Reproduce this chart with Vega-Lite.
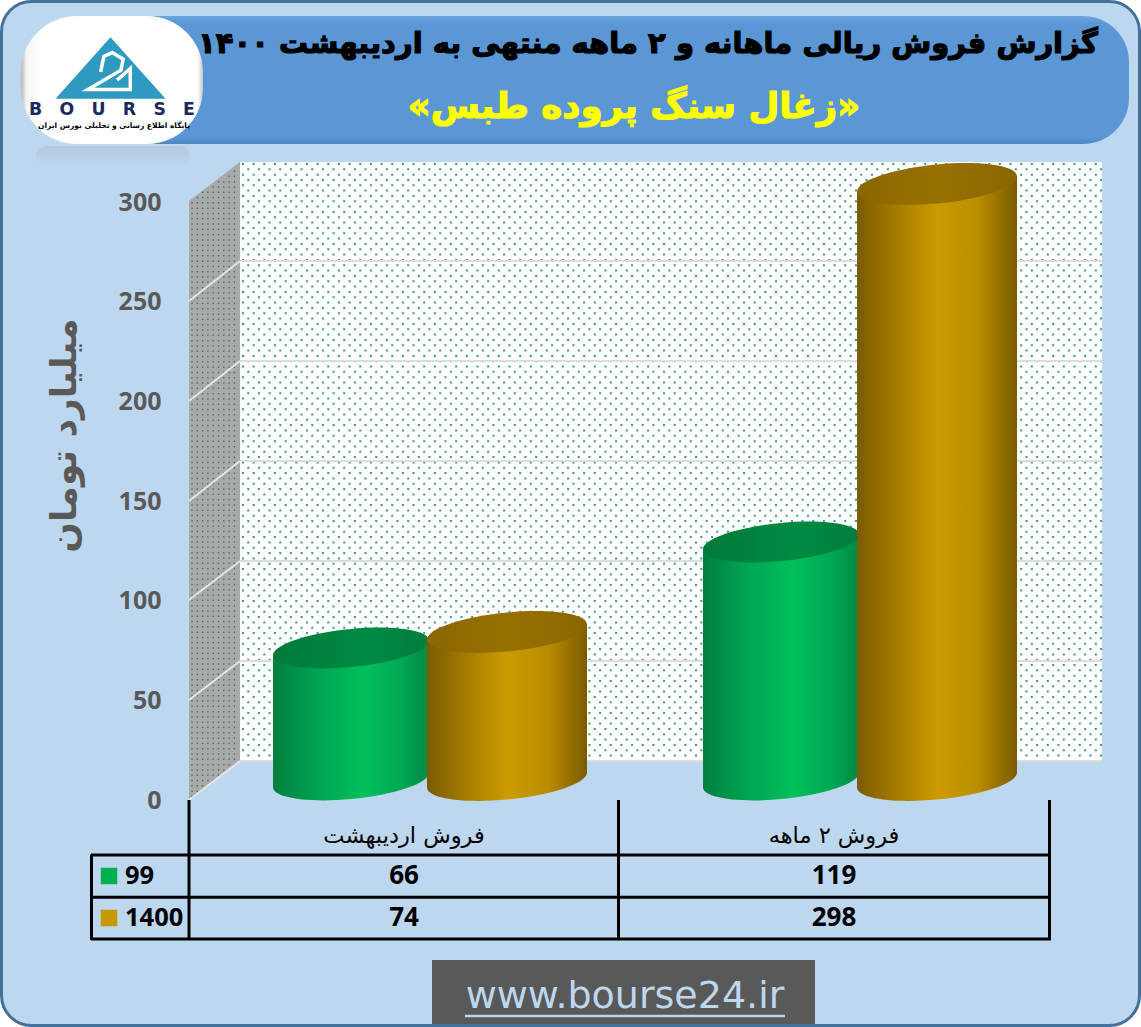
{"$schema":"https://vega.github.io/schema/vega-lite/v6.json","width":1141,"height":1027,"autosize":{"type":"fit","contains":"padding"},"padding":0,"background":"#ffffff","config":{"view":{"stroke":null}},
"datasets":{"one":[{}],
"sales":[{"cat":"فروش اردیبهشت","series":"99","value":66},{"cat":"فروش اردیبهشت","series":"1400","value":74},{"cat":"فروش ۲ ماهه","series":"99","value":119},{"cat":"فروش ۲ ماهه","series":"1400","value":298}],
"cats":[{"cat":"فروش اردیبهشت"},{"cat":"فروش ۲ ماهه"}],
"seriesRows":[{"series":"99"},{"series":"1400"}],
"grid":[{"tick":0,"front":800,"back":761},{"tick":50,"front":700,"back":661},{"tick":100,"front":600,"back":561},{"tick":150,"front":501,"back":461},{"tick":200,"front":401,"back":361},{"tick":250,"front":301,"back":261},{"tick":300,"front":202,"back":161}],
"side":[{"x":189,"t":201,"b":800},{"x":240,"t":162,"b":761}],
"sideDots":[{"x":192,"t":202.1,"b":797},{"x":197.3,"t":196.8,"b":793},{"x":202.6,"t":191.5,"b":789},{"x":207.9,"t":191.5,"b":785},{"x":213.2,"t":186.2,"b":781},{"x":218.5,"t":180.9,"b":777},{"x":223.8,"t":180.9,"b":774},{"x":229.1,"t":175.6,"b":770},{"x":234.4,"t":170.3,"b":766}],
"dotsA":[{"r":164},{"r":174.7},{"r":185.3},{"r":196},{"r":206.6},{"r":217.3},{"r":228},{"r":238.6},{"r":249.3},{"r":259.9},{"r":270.6},{"r":281.3},{"r":291.9},{"r":302.6},{"r":313.2},{"r":323.9},{"r":334.6},{"r":345.2},{"r":355.9},{"r":366.5},{"r":377.2},{"r":387.9},{"r":398.5},{"r":409.2},{"r":419.8},{"r":430.5},{"r":441.2},{"r":451.8},{"r":462.5},{"r":473.1},{"r":483.8},{"r":494.5},{"r":505.1},{"r":515.8},{"r":526.4},{"r":537.1},{"r":547.8},{"r":558.4},{"r":569.1},{"r":579.7},{"r":590.4},{"r":601.1},{"r":611.7},{"r":622.4},{"r":633},{"r":643.7},{"r":654.4},{"r":665},{"r":675.7},{"r":686.3},{"r":697},{"r":707.7},{"r":718.3},{"r":729},{"r":739.6},{"r":750.3}],
"dotsB":[{"r":169.3},{"r":180},{"r":190.6},{"r":201.3},{"r":211.9},{"r":222.6},{"r":233.3},{"r":243.9},{"r":254.6},{"r":265.2},{"r":275.9},{"r":286.6},{"r":297.2},{"r":307.9},{"r":318.5},{"r":329.2},{"r":339.9},{"r":350.5},{"r":361.2},{"r":371.8},{"r":382.5},{"r":393.2},{"r":403.8},{"r":414.5},{"r":425.1},{"r":435.8},{"r":446.5},{"r":457.1},{"r":467.8},{"r":478.4},{"r":489.1},{"r":499.8},{"r":510.4},{"r":521.1},{"r":531.7},{"r":542.4},{"r":553.1},{"r":563.7},{"r":574.4},{"r":585},{"r":595.7},{"r":606.4},{"r":617},{"r":627.7},{"r":638.3},{"r":649},{"r":659.7},{"r":670.3},{"r":681},{"r":691.6},{"r":702.3},{"r":713},{"r":723.6},{"r":734.3},{"r":744.9},{"r":755.6}]
},
"resolve":{"scale":{"x":"independent","y":"independent"}},
"layer":[
{"data":{"name":"one"},"mark":{"type":"rect","fill":"#bdd7ee","stroke":"#41719c","strokeWidth":3,"cornerRadius":30},"encoding":{"x":{"datum":1.5,"type":"quantitative","scale":{"domain":[0,1141],"range":[0,1141]},"axis":null},"x2":{"datum":1139.5},"y":{"datum":1.5,"type":"quantitative","scale":{"domain":[0,1027],"range":[0,1027]},"axis":null},"y2":{"datum":1025.5}}},
{"data":{"name":"one"},"mark":{"type":"rect","fill":{"x1":0,"y1":0,"x2":0,"y2":1,"gradient":"linear","stops":[{"offset":0,"color":"#6ba6de"},{"offset":0.06,"color":"#5b97d5"},{"offset":0.95,"color":"#5a97d4"},{"offset":1,"color":"#4d86c0"}]},"cornerRadius":46},"encoding":{"x":{"datum":110,"type":"quantitative","scale":{"domain":[0,1141],"range":[0,1141]},"axis":null},"x2":{"datum":1129},"y":{"datum":16,"type":"quantitative","scale":{"domain":[0,1027],"range":[0,1027]},"axis":null},"y2":{"datum":144}}},
{"data":{"name":"one"},"mark":{"type":"rect","fill":{"x1":0,"y1":0,"x2":0,"y2":1,"gradient":"linear","stops":[{"offset":0,"color":"#b2c9df"},{"offset":1,"color":"#bdd7ee"}]},"cornerRadius":18},"encoding":{"x":{"datum":36,"type":"quantitative","scale":{"domain":[0,1141],"range":[0,1141]},"axis":null},"x2":{"datum":190},"y":{"datum":146,"type":"quantitative","scale":{"domain":[0,1027],"range":[0,1027]},"axis":null},"y2":{"datum":166}}},
{"data":{"name":"one"},"mark":{"type":"rect","fill":{"x1":0,"y1":0,"x2":1,"y2":0,"gradient":"linear","stops":[{"offset":0,"color":"#b5b5b5"},{"offset":0.03,"color":"#f4f4f4"},{"offset":0.1,"color":"#ffffff"},{"offset":0.97,"color":"#ffffff"},{"offset":1,"color":"#c4c4c4"}]},"cornerRadius":56},"encoding":{"x":{"datum":21,"type":"quantitative","scale":{"domain":[0,1141],"range":[0,1141]},"axis":null},"x2":{"datum":203},"y":{"datum":16,"type":"quantitative","scale":{"domain":[0,1027],"range":[0,1027]},"axis":null},"y2":{"datum":144}}},
{"data":{"name":"one"},"mark":{"type":"point","shape":"M0,-0.56L1,0.56L-1,0.56Z","filled":true,"fill":"#2f9abf","size":12100,"opacity":1,"strokeWidth":0},"encoding":{"x":{"datum":110.5,"type":"quantitative","scale":{"domain":[0,1141],"range":[0,1141]},"axis":null},"y":{"datum":68,"type":"quantitative","scale":{"domain":[0,1027],"range":[0,1027]},"axis":null}}},
{"data":{"name":"one"},"mark":{"type":"point","shape":"M-0.18,0.07L-0.12,-0.21L0.03,-0.28L0.23,-0.16L0.19,0.04L-0.41,0.39L0.36,0.39L0.36,0.01L0.12,0.22","filled":false,"stroke":"#ffffff","strokeWidth":3.5,"size":12100,"opacity":1},"encoding":{"x":{"datum":110.5,"type":"quantitative","scale":{"domain":[0,1141],"range":[0,1141]},"axis":null},"y":{"datum":68,"type":"quantitative","scale":{"domain":[0,1027],"range":[0,1027]},"axis":null}}},
{"data":{"name":"one"},"mark":{"type":"text","text":"B\u2003O\u2003U\u2003R\u2003S\u2003E","font":"DejaVu Sans","fontSize":17.3,"fontWeight":"bold","fill":"#1b2a5e","align":"center","baseline":"middle"},"encoding":{"x":{"datum":112,"type":"quantitative","scale":{"domain":[0,1141],"range":[0,1141]},"axis":null},"y":{"datum":110,"type":"quantitative","scale":{"domain":[0,1027],"range":[0,1027]},"axis":null}}},
{"data":{"name":"one"},"mark":{"type":"text","text":"پایگاه اطلاع رسانی و تحلیلی بورس ایران","font":"DejaVu Sans","fontSize":7.5,"fontWeight":"bold","fill":"#000000","align":"center","baseline":"middle"},"encoding":{"x":{"datum":114,"type":"quantitative","scale":{"domain":[0,1141],"range":[0,1141]},"axis":null},"y":{"datum":126,"type":"quantitative","scale":{"domain":[0,1027],"range":[0,1027]},"axis":null}}},
{"data":{"name":"one"},"mark":{"type":"text","text":"گزارش فروش ریالی ماهانه و ۲ ماهه منتهی به اردیبهشت ۱۴۰۰","font":"DejaVu Sans","fontSize":29,"fontWeight":"bold","fill":"#000000","stroke":"#000000","strokeWidth":1.2,"align":"center","baseline":"middle"},"encoding":{"x":{"datum":648,"type":"quantitative","scale":{"domain":[0,1141],"range":[0,1141]},"axis":null},"y":{"datum":44,"type":"quantitative","scale":{"domain":[0,1027],"range":[0,1027]},"axis":null}}},
{"data":{"name":"one"},"mark":{"type":"text","text":"«زغال سنگ پروده طبس»","font":"DejaVu Sans","fontSize":35.5,"fontWeight":"bold","fill":"#ffff00","stroke":"#ffff00","strokeWidth":1.2,"align":"center","baseline":"middle"},"encoding":{"x":{"datum":634,"type":"quantitative","scale":{"domain":[0,1141],"range":[0,1141]},"axis":null},"y":{"datum":107,"type":"quantitative","scale":{"domain":[0,1027],"range":[0,1027]},"axis":null}}},
{"data":{"name":"side"},"mark":{"type":"area","fill":"#a9a9a9","opacity":1},"encoding":{"x":{"field":"x","type":"quantitative","scale":{"domain":[0,1141],"range":[0,1141]},"axis":null},"y":{"field":"t","type":"quantitative","scale":{"domain":[0,1027],"range":[0,1027]},"axis":null},"y2":{"field":"b"}}},
{"data":{"name":"sideDots"},"mark":{"type":"rule","stroke":"#1f6f4d","strokeWidth":1.3,"strokeDash":[1.5,3.8],"opacity":0.85},"encoding":{"x":{"field":"x","type":"quantitative","scale":{"domain":[0,1141],"range":[0,1141]},"axis":null},"y":{"field":"t","type":"quantitative","scale":{"domain":[0,1027],"range":[0,1027]},"axis":null},"y2":{"field":"b"}}},
{"data":{"name":"one"},"mark":{"type":"rect","fill":"#ffffff"},"encoding":{"x":{"datum":240,"type":"quantitative","scale":{"domain":[0,1141],"range":[0,1141]},"axis":null},"x2":{"datum":1102},"y":{"datum":162,"type":"quantitative","scale":{"domain":[0,1027],"range":[0,1027]},"axis":null},"y2":{"datum":761}}},
{"data":{"name":"dotsA"},"mark":{"type":"rule","stroke":"#259464","strokeWidth":2,"strokeDash":[2,8.66],"opacity":0.9},"encoding":{"x":{"datum":242,"type":"quantitative","scale":{"domain":[0,1141],"range":[0,1141]},"axis":null},"x2":{"datum":1102},"y":{"field":"r","type":"quantitative","scale":{"domain":[0,1027],"range":[0,1027]},"axis":null}}},
{"data":{"name":"dotsB"},"mark":{"type":"rule","stroke":"#259464","strokeWidth":2,"strokeDash":[2,8.66],"opacity":0.9},"encoding":{"x":{"datum":247.3,"type":"quantitative","scale":{"domain":[0,1141],"range":[0,1141]},"axis":null},"x2":{"datum":1102},"y":{"field":"r","type":"quantitative","scale":{"domain":[0,1027],"range":[0,1027]},"axis":null}}},
{"data":{"name":"grid"},"transform":[{"filter":"datum.tick < 300"}],"mark":{"type":"rule","stroke":"#dcdcdc","strokeWidth":2},"encoding":{"x":{"datum":240,"type":"quantitative","scale":{"domain":[0,1141],"range":[0,1141]},"axis":null},"x2":{"datum":1102},"y":{"field":"back","type":"quantitative","scale":{"domain":[0,1027],"range":[0,1027]},"axis":null}}},
{"data":{"name":"grid"},"transform":[{"filter":"datum.tick < 300"}],"mark":{"type":"rule","stroke":"#e6e6e6","strokeWidth":2},"encoding":{"x":{"datum":189,"type":"quantitative","scale":{"domain":[0,1141],"range":[0,1141]},"axis":null},"x2":{"datum":240},"y":{"field":"front","type":"quantitative","scale":{"domain":[0,1027],"range":[0,1027]},"axis":null},"y2":{"field":"back"}}},
{"data":{"name":"grid"},"mark":{"type":"point","opacity":0,"size":1},"encoding":{"x":{"datum":170,"type":"quantitative","scale":{"domain":[0,1141],"range":[0,1141]},"axis":null},"y":{"field":"tick","type":"quantitative","scale":{"domain":[0,300],"range":[800,202]},"axis":{"zindex":1,"values":[0,50,100,150,200,250,300],"offset":-170,"domain":false,"ticks":false,"grid":false,"labelFont":"Open Sans","labelFontSize":25,"labelFontWeight":"bold","labelColor":"#595959","labelPadding":9,"labelOverlap":false,"title":"میلیارد تومان","titleFont":"DejaVu Sans","titleFontSize":36,"titleFontWeight":"bold","titleColor":"#595959","titleX":-106,"titleY":435,"titleAngle":-90,"titleAlign":"center","titleBaseline":"middle"}}}},
{"data":{"name":"sales"},"transform":[{"filter":"datum.series == '99'"}],"mark":{"type":"point","shape":"M1,-0.094C1,0.0408,0.5523,0.1921,0,0.244C-0.5523,0.2959,-1,0.2288,-1,0.094L-1,-0.11L1,-0.11Z","filled":true,"opacity":1,"strokeWidth":0,"size":24336,"fill":{"x1":0,"y1":0,"x2":1,"y2":0,"gradient":"linear","stops":[{"offset":0,"color":"#007f3d"},{"offset":0.3,"color":"#00a652"},{"offset":0.58,"color":"#00c05c"},{"offset":0.82,"color":"#00a853"},{"offset":1,"color":"#008a43"}]}},"encoding":{"x":{"field":"cat","type":"nominal","scale":{"type":"band","domain":["فروش اردیبهشت","فروش ۲ ماهه"],"range":[214,1074],"paddingInner":0,"paddingOuter":0},"axis":null},"xOffset":{"field":"series","type":"nominal","scale":{"type":"band","domain":["99","1400"],"range":[59,371],"paddingInner":0,"paddingOuter":0}},"y":{"datum":0,"type":"quantitative","scale":{"domain":[0,300],"range":[780,180]},"axis":null}}},
{"data":{"name":"sales"},"transform":[{"filter":"datum.series == '99'"}],"mark":{"type":"bar","fill":{"x1":0,"y1":0,"x2":1,"y2":0,"gradient":"linear","stops":[{"offset":0,"color":"#007f3d"},{"offset":0.3,"color":"#00a652"},{"offset":0.58,"color":"#00c05c"},{"offset":0.82,"color":"#00a853"},{"offset":1,"color":"#008a43"}]}},"encoding":{"x":{"field":"cat","type":"nominal","scale":{"type":"band","domain":["فروش اردیبهشت","فروش ۲ ماهه"],"range":[214,1074],"paddingInner":0,"paddingOuter":0},"axis":null},"xOffset":{"field":"series","type":"nominal","scale":{"type":"band","domain":["99","1400"],"range":[59,371],"paddingInner":0,"paddingOuter":0}},"y":{"field":"value","type":"quantitative","scale":{"domain":[0,300],"range":[787.3,187.3]},"axis":null},"y2":{"datum":7.3}}},
{"data":{"name":"sales"},"transform":[{"filter":"datum.series == '99'"}],"mark":{"type":"point","shape":"M-1,0.11L1,0.11L1,-0.094L-1,0.094Z","filled":true,"opacity":1,"strokeWidth":0,"size":24336,"fill":{"x1":0,"y1":0,"x2":1,"y2":0,"gradient":"linear","stops":[{"offset":0,"color":"#007f3d"},{"offset":0.3,"color":"#00a652"},{"offset":0.58,"color":"#00c05c"},{"offset":0.82,"color":"#00a853"},{"offset":1,"color":"#008a43"}]}},"encoding":{"x":{"field":"cat","type":"nominal","scale":{"type":"band","domain":["فروش اردیبهشت","فروش ۲ ماهه"],"range":[214,1074],"paddingInner":0,"paddingOuter":0},"axis":null},"xOffset":{"field":"series","type":"nominal","scale":{"type":"band","domain":["99","1400"],"range":[59,371],"paddingInner":0,"paddingOuter":0}},"y":{"field":"value","type":"quantitative","scale":{"domain":[0,300],"range":[780,180]},"axis":null}}},
{"data":{"name":"sales"},"transform":[{"filter":"datum.series == '99'"}],"mark":{"type":"point","shape":"M1,-0.094C1,0.0408,0.5523,0.1921,0,0.244C-0.5523,0.2959,-1,0.2288,-1,0.094C-1,-0.0408,-0.5523,-0.1921,0,-0.244C0.5523,-0.2959,1,-0.2288,1,-0.094Z","filled":true,"opacity":1,"strokeWidth":0,"size":24336,"fill":{"x1":0,"y1":0,"x2":1,"y2":0,"gradient":"linear","stops":[{"offset":0,"color":"#007a3a"},{"offset":0.6,"color":"#008a42"},{"offset":1,"color":"#007e3c"}]}},"encoding":{"x":{"field":"cat","type":"nominal","scale":{"type":"band","domain":["فروش اردیبهشت","فروش ۲ ماهه"],"range":[214,1074],"paddingInner":0,"paddingOuter":0},"axis":null},"xOffset":{"field":"series","type":"nominal","scale":{"type":"band","domain":["99","1400"],"range":[59,371],"paddingInner":0,"paddingOuter":0}},"y":{"field":"value","type":"quantitative","scale":{"domain":[0,300],"range":[780,180]},"axis":null}}},
{"data":{"name":"sales"},"transform":[{"filter":"datum.series == '1400'"}],"mark":{"type":"point","shape":"M1,-0.094C1,0.0408,0.5523,0.1921,0,0.244C-0.5523,0.2959,-1,0.2288,-1,0.094L-1,-0.11L1,-0.11Z","filled":true,"opacity":1,"strokeWidth":0,"size":25600,"fill":{"x1":0,"y1":0,"x2":1,"y2":0,"gradient":"linear","stops":[{"offset":0,"color":"#7a5b00"},{"offset":0.25,"color":"#a67c00"},{"offset":0.5,"color":"#cc9b00"},{"offset":0.75,"color":"#bb8d00"},{"offset":1,"color":"#7a5b00"}]}},"encoding":{"x":{"field":"cat","type":"nominal","scale":{"type":"band","domain":["فروش اردیبهشت","فروش ۲ ماهه"],"range":[214,1074],"paddingInner":0,"paddingOuter":0},"axis":null},"xOffset":{"field":"series","type":"nominal","scale":{"type":"band","domain":["99","1400"],"range":[59,371],"paddingInner":0,"paddingOuter":0}},"y":{"datum":0,"type":"quantitative","scale":{"domain":[0,300],"range":[780,180]},"axis":null}}},
{"data":{"name":"sales"},"transform":[{"filter":"datum.series == '1400'"}],"mark":{"type":"bar","width":160,"fill":{"x1":0,"y1":0,"x2":1,"y2":0,"gradient":"linear","stops":[{"offset":0,"color":"#7a5b00"},{"offset":0.25,"color":"#a67c00"},{"offset":0.5,"color":"#cc9b00"},{"offset":0.75,"color":"#bb8d00"},{"offset":1,"color":"#7a5b00"}]}},"encoding":{"x":{"field":"cat","type":"nominal","scale":{"type":"band","domain":["فروش اردیبهشت","فروش ۲ ماهه"],"range":[214,1074],"paddingInner":0,"paddingOuter":0},"axis":null},"xOffset":{"field":"series","type":"nominal","scale":{"type":"band","domain":["99","1400"],"range":[59,371],"paddingInner":0,"paddingOuter":0}},"y":{"field":"value","type":"quantitative","scale":{"domain":[0,300],"range":[787.5,187.5]},"axis":null},"y2":{"datum":7.5}}},
{"data":{"name":"sales"},"transform":[{"filter":"datum.series == '1400'"}],"mark":{"type":"point","shape":"M-1,0.11L1,0.11L1,-0.094L-1,0.094Z","filled":true,"opacity":1,"strokeWidth":0,"size":25600,"fill":{"x1":0,"y1":0,"x2":1,"y2":0,"gradient":"linear","stops":[{"offset":0,"color":"#7a5b00"},{"offset":0.25,"color":"#a67c00"},{"offset":0.5,"color":"#cc9b00"},{"offset":0.75,"color":"#bb8d00"},{"offset":1,"color":"#7a5b00"}]}},"encoding":{"x":{"field":"cat","type":"nominal","scale":{"type":"band","domain":["فروش اردیبهشت","فروش ۲ ماهه"],"range":[214,1074],"paddingInner":0,"paddingOuter":0},"axis":null},"xOffset":{"field":"series","type":"nominal","scale":{"type":"band","domain":["99","1400"],"range":[59,371],"paddingInner":0,"paddingOuter":0}},"y":{"field":"value","type":"quantitative","scale":{"domain":[0,300],"range":[780,180]},"axis":null}}},
{"data":{"name":"sales"},"transform":[{"filter":"datum.series == '1400'"}],"mark":{"type":"point","shape":"M1,-0.094C1,0.0408,0.5523,0.1921,0,0.244C-0.5523,0.2959,-1,0.2288,-1,0.094C-1,-0.0408,-0.5523,-0.1921,0,-0.244C0.5523,-0.2959,1,-0.2288,1,-0.094Z","filled":true,"opacity":1,"strokeWidth":0,"size":25600,"fill":{"x1":0,"y1":0,"x2":1,"y2":0,"gradient":"linear","stops":[{"offset":0,"color":"#8a6600"},{"offset":0.5,"color":"#977100"},{"offset":1,"color":"#8a6600"}]}},"encoding":{"x":{"field":"cat","type":"nominal","scale":{"type":"band","domain":["فروش اردیبهشت","فروش ۲ ماهه"],"range":[214,1074],"paddingInner":0,"paddingOuter":0},"axis":null},"xOffset":{"field":"series","type":"nominal","scale":{"type":"band","domain":["99","1400"],"range":[59,371],"paddingInner":0,"paddingOuter":0}},"y":{"field":"value","type":"quantitative","scale":{"domain":[0,300],"range":[780,180]},"axis":null}}},
{"data":{"name":"one"},"mark":{"type":"rule","stroke":"#000000","strokeWidth":3},"encoding":{"x":{"datum":189,"type":"quantitative","scale":{"domain":[0,1141],"range":[0,1141]},"axis":null},"y":{"datum":800,"type":"quantitative","scale":{"domain":[0,1027],"range":[0,1027]},"axis":null},"y2":{"datum":940}}},
{"data":{"name":"one"},"mark":{"type":"rule","stroke":"#000000","strokeWidth":3},"encoding":{"x":{"datum":618.5,"type":"quantitative","scale":{"domain":[0,1141],"range":[0,1141]},"axis":null},"y":{"datum":800,"type":"quantitative","scale":{"domain":[0,1027],"range":[0,1027]},"axis":null},"y2":{"datum":940}}},
{"data":{"name":"one"},"mark":{"type":"rule","stroke":"#000000","strokeWidth":3},"encoding":{"x":{"datum":1049.5,"type":"quantitative","scale":{"domain":[0,1141],"range":[0,1141]},"axis":null},"y":{"datum":800,"type":"quantitative","scale":{"domain":[0,1027],"range":[0,1027]},"axis":null},"y2":{"datum":940}}},
{"data":{"name":"one"},"mark":{"type":"rule","stroke":"#000000","strokeWidth":3},"encoding":{"x":{"datum":91.5,"type":"quantitative","scale":{"domain":[0,1141],"range":[0,1141]},"axis":null},"y":{"datum":854.5,"type":"quantitative","scale":{"domain":[0,1027],"range":[0,1027]},"axis":null},"y2":{"datum":940}}},
{"data":{"name":"seriesRows"},"mark":{"type":"rule","stroke":"#000000","strokeWidth":3},"encoding":{"x":{"datum":91,"type":"quantitative","scale":{"domain":[0,1141],"range":[0,1141]},"axis":null},"x2":{"datum":1051},"y":{"field":"series","type":"nominal","scale":{"type":"band","domain":["99","1400"],"range":[855,939.5],"paddingInner":0,"paddingOuter":0},"axis":null,"bandPosition":0}}},
{"data":{"name":"one"},"mark":{"type":"rule","stroke":"#000000","strokeWidth":3},"encoding":{"x":{"datum":91,"type":"quantitative","scale":{"domain":[0,1141],"range":[0,1141]},"axis":null},"x2":{"datum":1051},"y":{"datum":939,"type":"quantitative","scale":{"domain":[0,1027],"range":[0,1027]},"axis":null}}},
{"data":{"name":"cats"},"mark":{"type":"text","font":"DejaVu Sans","fontSize":22.5,"fill":"#000000","align":"center","baseline":"middle"},"encoding":{"x":{"field":"cat","type":"nominal","scale":{"type":"band","domain":["فروش اردیبهشت","فروش ۲ ماهه"],"range":[189,1049],"paddingInner":0,"paddingOuter":0},"axis":null},"y":{"datum":836,"type":"quantitative","scale":{"domain":[0,1027],"range":[0,1027]},"axis":null},"text":{"field":"cat"}}},
{"data":{"name":"sales"},"mark":{"type":"text","font":"Open Sans","fontSize":26,"fontWeight":"bold","fill":"#000000","align":"center","baseline":"middle"},"encoding":{"x":{"field":"cat","type":"nominal","scale":{"type":"band","domain":["فروش اردیبهشت","فروش ۲ ماهه"],"range":[189,1049],"paddingInner":0,"paddingOuter":0},"axis":null},"y":{"field":"series","type":"nominal","scale":{"type":"band","domain":["99","1400"],"range":[855,939],"paddingInner":0,"paddingOuter":0},"axis":null},"text":{"field":"value"}}},
{"data":{"name":"seriesRows"},"mark":{"type":"point","shape":"square","filled":true,"opacity":1,"size":272,"strokeWidth":0},"encoding":{"x":{"datum":109,"type":"quantitative","scale":{"domain":[0,1141],"range":[0,1141]},"axis":null},"y":{"field":"series","type":"nominal","scale":{"type":"band","domain":["99","1400"],"range":[855,939],"paddingInner":0,"paddingOuter":0},"axis":null},"fill":{"field":"series","type":"nominal","scale":{"domain":["99","1400"],"range":["#00b050","#c49a00"]},"legend":null}}},
{"data":{"name":"seriesRows"},"mark":{"type":"text","font":"Open Sans","fontSize":25.5,"fontWeight":"bold","fill":"#000000","align":"left","baseline":"middle"},"encoding":{"x":{"datum":125,"type":"quantitative","scale":{"domain":[0,1141],"range":[0,1141]},"axis":null},"y":{"field":"series","type":"nominal","scale":{"type":"band","domain":["99","1400"],"range":[855,939],"paddingInner":0,"paddingOuter":0},"axis":null},"text":{"field":"series"}}},
{"data":{"name":"one"},"mark":{"type":"rect","fill":"#595959"},"encoding":{"x":{"datum":432,"type":"quantitative","scale":{"domain":[0,1141],"range":[0,1141]},"axis":null},"x2":{"datum":815},"y":{"datum":960,"type":"quantitative","scale":{"domain":[0,1027],"range":[0,1027]},"axis":null},"y2":{"datum":1024}}},
{"data":{"name":"one"},"mark":{"type":"text","text":"www.bourse24.ir","font":"DejaVu Sans","fontSize":38,"fill":"#bdd7ee","align":"center","baseline":"alphabetic"},"encoding":{"x":{"datum":625,"type":"quantitative","scale":{"domain":[0,1141],"range":[0,1141]},"axis":null},"y":{"datum":1008,"type":"quantitative","scale":{"domain":[0,1027],"range":[0,1027]},"axis":null}}},
{"data":{"name":"one"},"mark":{"type":"rule","stroke":"#bdd7ee","strokeWidth":2.5},"encoding":{"x":{"datum":465,"type":"quantitative","scale":{"domain":[0,1141],"range":[0,1141]},"axis":null},"x2":{"datum":785},"y":{"datum":1016,"type":"quantitative","scale":{"domain":[0,1027],"range":[0,1027]},"axis":null}}}
]}
